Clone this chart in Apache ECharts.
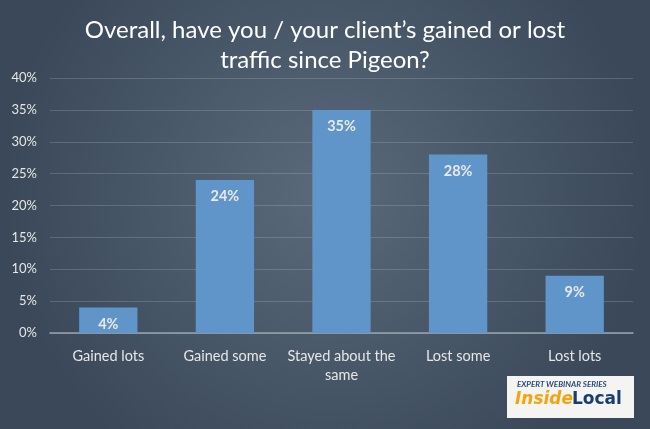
<!DOCTYPE html>
<html><head><meta charset="utf-8">
<script src="https://cdn.jsdelivr.net/npm/echarts@6/dist/echarts.min.js"></script>
<style>html,body{margin:0;padding:0;}#c{width:650px;height:429px;}</style>
</head><body><div id="c"></div>
<script>
var categories = ['Gained lots', 'Gained some', 'Stayed about the\nsame', 'Lost some', 'Lost lots'];
var values = [4, 24, 35, 28, 9];
var yTicks = [0, 5, 10, 15, 20, 25, 30, 35, 40];

var chart = echarts.init(document.getElementById('c'));
chart.setOption({
  backgroundColor: {
    type: 'radial', x: 0.5, y: 0.45, r: 0.75,
    colorStops: [{offset: 0, color: '#5a6a7a'}, {offset: 1, color: '#3a4859'}]
  },
  title: {
    text: 'Overall, have you / your client\u2019s gained or lost\ntraffic since Pigeon?',
    left: 'center', top: 10,
    textStyle: {color: '#ffffff', fontFamily: 'Lato', fontWeight: 'normal', fontSize: 24, lineHeight: 30}
  },
  grid: {left: 50, right: 17, top: 78, bottom: 96},
  xAxis: {
    type: 'category', data: categories,
    axisLine: {lineStyle: {color: '#9aa4ae', width: 1.5}},
    axisTick: {show: false},
    axisLabel: {color: '#e6e6e6', fontFamily: 'Lato', fontSize: 14.5, margin: 14, lineHeight: 19, interval: 0}
  },
  yAxis: {
    type: 'value', min: yTicks[0], max: yTicks[yTicks.length - 1], interval: 5,
    axisLine: {show: false}, axisTick: {show: false},
    axisLabel: {color: '#e6e6e6', fontFamily: 'Lato', fontSize: 13, margin: 13, formatter: '{value}%'},
    splitLine: {lineStyle: {color: 'rgba(200,210,220,0.22)', width: 1}}
  },
  series: [{
    type: 'bar', data: values, barWidth: '50%',
    itemStyle: {color: '#5f95c8'},
    label: {show: true, position: 'insideTop', distance: 9, formatter: '{c}%', color: '#e8e8e8', fontFamily: 'Lato', fontWeight: 'bold', fontSize: 14.5}
  }],
  graphic: [
    {type: 'rect', left: 507, top: 376, shape: {width: 127, height: 42}, style: {fill: '#f4f4f2'}},
    {type: 'text', left: 517, top: 380, style: {text: 'EXPERT WEBINAR SERIES', fill: '#2c4a7a', font: 'italic bold 8px Lato'}},
    {type: 'text', left: 515, top: 391, style: {text: 'Inside', fill: '#f5a40f', font: 'italic 900 17px "DejaVu Sans"'}},
    {type: 'text', left: 572, top: 391, style: {text: 'Local', fill: '#173d73', font: '900 17px "DejaVu Sans"'}}
  ]
});
</script></body></html>
